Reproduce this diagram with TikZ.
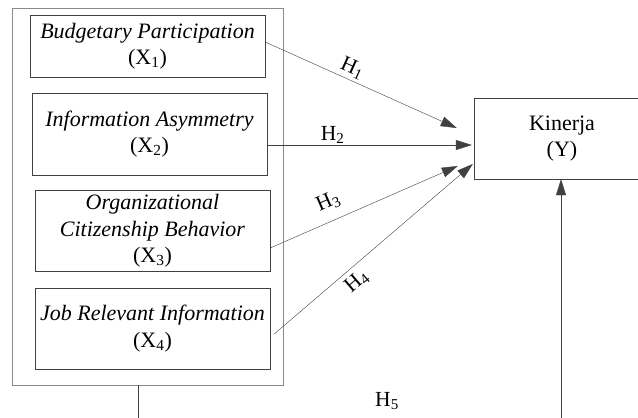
\documentclass[tikz,border=0pt]{standalone}
\usepackage{fontspec}
\setmainfont{Liberation Serif}
\usetikzlibrary{arrows.meta}

\definecolor{linegray}{HTML}{404040}
\definecolor{framegray}{HTML}{8A8A8A}

\tikzset{
    varbox/.style={draw=linegray, align=center, inner sep=0pt, minimum width=235pt},
    hyp/.style={draw=linegray, -{Triangle[length=16pt,width=10pt]}},
    hlabel/.style={font=\fontsize{21.5}{24}\selectfont, inner sep=1pt}
}

\begin{document}
\begin{tikzpicture}[x=1pt, y=-1pt, font=\fontsize{22}{26.5}\selectfont]
    \useasboundingbox (0,0) rectangle (638,418);

    % Draw the outer frame round the four independent variables
    \node[draw=framegray, thick, minimum width=271pt, minimum height=377pt] (frame) at (147.5,196.5) {};

    % Draw the independent variable boxes X1 to X4
    \node[varbox, minimum height=62pt] (bp) at (147.5,46) {\textit{Budgetary Participation}\\(X\textsubscript{1})};
    \node[varbox, minimum height=82pt] (ia) at (149.5,134) {\textit{Information Asymmetry}\\(X\textsubscript{2})};
    \node[varbox, minimum height=81pt] (ocb) at (152.5,231) {\textit{Organizational}\\\textit{Citizenship Behavior}\\(X\textsubscript{3})};
    \node[varbox, minimum height=81pt] (jri) at (152.5,328.5) {\textit{Job Relevant Information}\\(X\textsubscript{4})};

    % Draw the dependent variable box Y
    \node[draw=linegray, align=center, minimum width=176pt, minimum height=81pt] (kin) at (562,138.5) {Kinerja\\(Y)};

    % Draw the hypothesis arrows H1 to H4
    \draw[hyp] ([yshift=4pt]bp.east) -- node[hlabel, sloped, above=2pt, pos=0.43] {H\textsubscript{1}} ([xshift=-17pt, yshift=10.5pt]kin.west);
    \draw[hyp] ([yshift=-11pt]ia.east) -- node[hlabel, above, pos=0.32] {H\textsubscript{2}} ([xshift=-2pt, yshift=-6.5pt]kin.west);
    \draw[hyp] ([yshift=-17pt]ocb.east) -- node[hlabel, sloped, above=9pt, pos=0.35] {H\textsubscript{3}} ([xshift=-16pt, yshift=-27.5pt]kin.west);
    \draw[hyp] ([xshift=4pt, yshift=-5.5pt]jri.east) -- node[hlabel, sloped, below=4pt, pos=0.37] {H\textsubscript{4}} ([xshift=-1pt, yshift=-25.5pt]kin.west);

    % Draw the joint path H5 from the frame to Y
    \coordinate (low left) at (138,418);
    \coordinate (low right) at (561,418);
    \draw[draw=linegray] ([xshift=-9.5pt]frame.south) -- (low left);
    \draw[hyp] (low right) -- ([xshift=-1pt]kin.south);
    \node[hlabel] (h5) at (387,401) {H\textsubscript{5}};
\end{tikzpicture}
\end{document}
